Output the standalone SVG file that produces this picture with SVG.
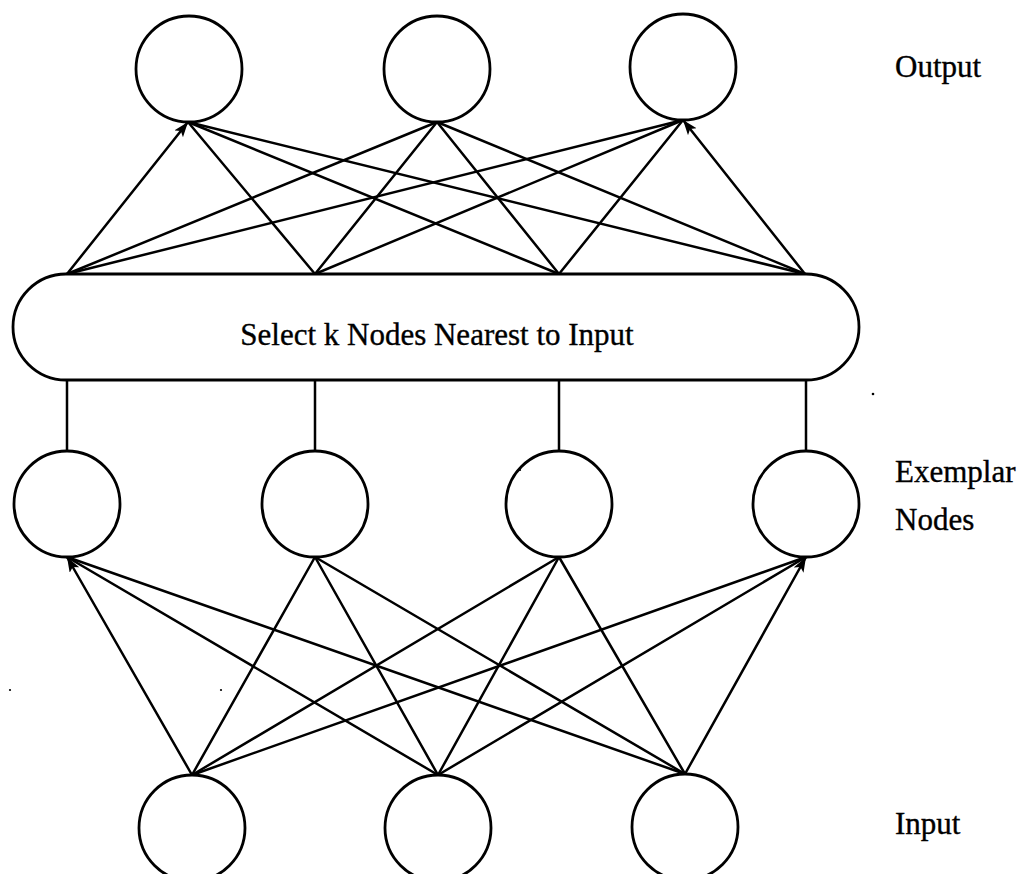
<svg xmlns="http://www.w3.org/2000/svg" width="1023" height="874" viewBox="0 0 1023 874">
  <style>
    .node { fill: #fff; stroke: #000; stroke-width: 2.8; }
    .edge { stroke: #000; stroke-width: 2.5; fill: none; stroke-linecap: round; }
    .lbl { font-family: "Liberation Serif", "Times New Roman", serif; font-size: 31px; fill: #000; stroke: #000; stroke-width: 0.35; }
  </style>
  <defs>
    <marker id="arrow" markerUnits="userSpaceOnUse" markerWidth="16" markerHeight="12" refX="15" refY="5.5" orient="auto">
      <path d="M0,0 L15,5.5 L0,11 L3.5,5.5 z" fill="#000"/>
    </marker>
  </defs>
  <rect width="1023" height="874" fill="#fff"/>

  <!-- connectors -->
  <g id="connectors">
    <!-- selector to output layer -->
    <line class="edge" x1="67" y1="274" x2="188" y2="122" marker-end="url(#arrow)"/>
    <line class="edge" x1="67" y1="274" x2="437" y2="122"/>
    <line class="edge" x1="67" y1="274" x2="683" y2="120"/>
    <line class="edge" x1="315" y1="274" x2="188" y2="122"/>
    <line class="edge" x1="315" y1="274" x2="437" y2="122"/>
    <line class="edge" x1="315" y1="274" x2="683" y2="120"/>
    <line class="edge" x1="559" y1="274" x2="188" y2="122"/>
    <line class="edge" x1="559" y1="274" x2="437" y2="122"/>
    <line class="edge" x1="559" y1="274" x2="683" y2="120"/>
    <line class="edge" x1="805" y1="274" x2="188" y2="122"/>
    <line class="edge" x1="805" y1="274" x2="437" y2="122"/>
    <line class="edge" x1="805" y1="274" x2="683" y2="120" marker-end="url(#arrow)"/>

    <!-- exemplar nodes to selector -->
    <line class="edge" x1="67" y1="380" x2="67" y2="451"/>
    <line class="edge" x1="315" y1="380" x2="315" y2="451"/>
    <line class="edge" x1="559" y1="380" x2="559" y2="451"/>
    <line class="edge" x1="806" y1="380" x2="806" y2="451"/>

    <!-- input layer to exemplar nodes -->
    <line class="edge" x1="192" y1="775" x2="67" y2="557" marker-end="url(#arrow)"/>
    <line class="edge" x1="192" y1="775" x2="315" y2="557"/>
    <line class="edge" x1="192" y1="775" x2="559" y2="557"/>
    <line class="edge" x1="192" y1="775" x2="806" y2="557"/>
    <line class="edge" x1="438" y1="775" x2="67" y2="557"/>
    <line class="edge" x1="438" y1="775" x2="315" y2="557"/>
    <line class="edge" x1="438" y1="775" x2="559" y2="557"/>
    <line class="edge" x1="438" y1="775" x2="806" y2="557"/>
    <line class="edge" x1="685" y1="774" x2="67" y2="557"/>
    <line class="edge" x1="685" y1="774" x2="315" y2="557"/>
    <line class="edge" x1="685" y1="774" x2="559" y2="557"/>
    <line class="edge" x1="685" y1="774" x2="806" y2="557" marker-end="url(#arrow)"/>
  </g>

  <!-- output layer -->
  <g id="out1"><circle class="node" cx="189" cy="69" r="53"/></g>
  <g id="out2"><circle class="node" cx="437" cy="69" r="53"/></g>
  <g id="out3"><circle class="node" cx="683" cy="67" r="53"/></g>

  <!-- selector -->
  <g id="selector">
    <rect class="node" x="13" y="274" width="846" height="106" rx="53" ry="53"/>
    <text class="lbl" x="437" y="345" text-anchor="middle">Select k Nodes Nearest to Input</text>
  </g>

  <!-- exemplar layer -->
  <g id="ex1"><circle class="node" cx="67" cy="504" r="53"/></g>
  <g id="ex2"><circle class="node" cx="315" cy="504" r="53"/></g>
  <g id="ex3"><circle class="node" cx="559" cy="504" r="53"/></g>
  <g id="ex4"><circle class="node" cx="806" cy="504" r="53"/></g>

  <!-- input layer -->
  <g id="in1"><circle class="node" cx="192" cy="828" r="53"/></g>
  <g id="in2"><circle class="node" cx="438" cy="828" r="53"/></g>
  <g id="in3"><circle class="node" cx="685" cy="827" r="53"/></g>

  <!-- layer labels -->
  <g id="labels">
    <text class="lbl" x="895" y="77">Output</text>
    <text class="lbl" x="895" y="482">Exemplar</text>
    <text class="lbl" x="895" y="530">Nodes</text>
    <text class="lbl" x="895" y="834">Input</text>
  </g>

  <!-- small specks -->
  <g id="specks" fill="#000">
    <circle cx="873" cy="394" r="1.3"/>
    <circle cx="520" cy="470" r="1.1"/>
    <circle cx="221" cy="690" r="1.1"/>
    <circle cx="10" cy="690" r="1.1"/>
  </g>
</svg>
